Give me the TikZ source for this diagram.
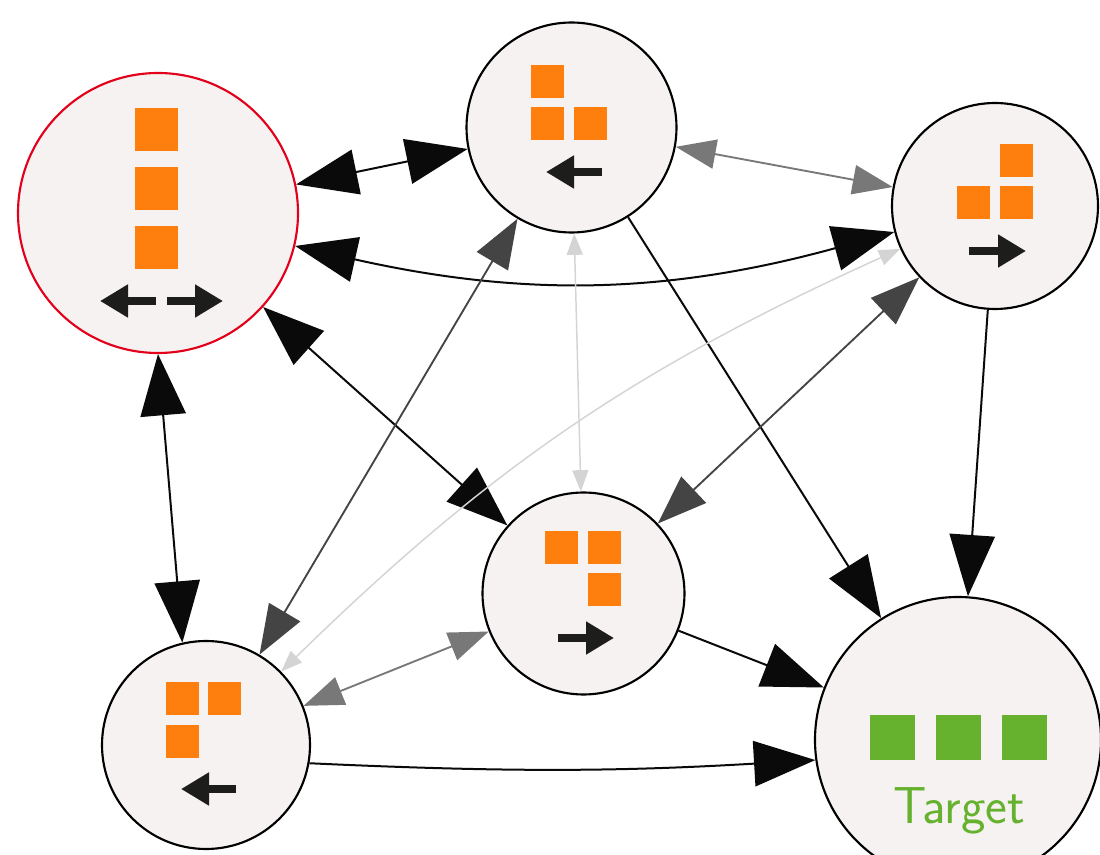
\documentclass[tikz,border=0pt]{standalone}
\usetikzlibrary{arrows.meta}

\definecolor{cellbg}{HTML}{F5F2F1}
\definecolor{sqorange}{HTML}{FF7F0E}
\definecolor{sqgreen}{HTML}{66B22E}
\definecolor{curred}{HTML}{E2001A}
\definecolor{icon}{HTML}{1D1D1B}
\definecolor{edgeblk}{HTML}{0A0A0A}
\definecolor{edgedark}{HTML}{444444}
\definecolor{edgegrey}{HTML}{787878}
\definecolor{edgepale}{HTML}{D4D4D4}

\tikzset{every picture/.style={line width=0.75pt}}
\tikzset{
  state/.style={circle, draw=black, line width=1.6pt, fill=cellbg, inner sep=0pt},
  sq/.style={fill=sqorange},
  gsq/.style={fill=sqgreen},
  dir/.style={draw=icon, line width=6pt, -{Triangle[length=21pt,width=23.5pt]}},
  heavy/.style={draw=edgeblk, line width=1.5pt, >={Triangle[length=46pt,width=34pt]}},
  dark/.style={draw=edgedark, line width=1.4pt, >={Triangle[length=37pt,width=27pt]}},
  grey/.style={draw=edgegrey, line width=1.4pt, >={Triangle[length=30pt,width=22pt]}},
  pale/.style={draw=edgepale, line width=1.1pt, >={Triangle[length=16pt,width=12pt]}}
}

\begin{document}
\begin{tikzpicture}[x=0.75pt,y=0.75pt,yscale=-1,xscale=1]
\useasboundingbox (0,0) rectangle (1100,855);

% states
\node (cur) [state, draw=curred, minimum size=210pt] at (158,213) {};
\node (up)  [state, minimum size=157.5pt] at (571.5,127.5) {};
\node (ne)  [state, minimum size=154.5pt] at (995,206) {};
\node (mid) [state, minimum size=151.5pt] at (583.5,593.5) {};
\node (sw)  [state, minimum size=156pt] at (206,745) {};
\node (tgt) [state, minimum size=214.5pt] at (958,740) {};

% transitions
\draw [heavy,<->]  (cur) -- (up) ;
\draw [heavy,<->]  (cur) to[bend left=14] (ne) ;
\draw [heavy,<->]  (cur) -- (mid) ;
\draw [heavy,<->]  (cur.south) -- (sw.103) ;
\draw [grey,<->]  (up) -- (ne) ;
\draw [dark,<->]  (up) -- (sw) ;
\draw [pale,<->]  (up) -- (mid) ;
\draw [heavy,->]  (up) -- (tgt) ;
\draw [dark,<->]  (ne) -- (mid) ;
\draw [pale,<->]  (ne) to[bend left=10] (sw) ;
\draw [heavy,->]  (ne) -- (tgt) ;
\draw [heavy,->]  (mid) -- (tgt) ;
\draw [grey,<->]  (mid) -- (sw) ;
\draw [heavy,->]  (sw.-10) to[bend left=3] (tgt.188) ;

% blocks
\fill [sq]  (135,108) rectangle (178,151) ;
\fill [sq]  (135,167) rectangle (178,210) ;
\fill [sq]  (135,226) rectangle (178,269) ;
\fill [sq]  (531,65) rectangle (564,98) ;
\fill [sq]  (531,107) rectangle (564,140) ;
\fill [sq]  (574,107) rectangle (607,140) ;
\fill [sq]  (1000,144) rectangle (1033,177) ;
\fill [sq]  (957,186) rectangle (990,219) ;
\fill [sq]  (1000,186) rectangle (1033,219) ;
\fill [sq]  (545,531) rectangle (578,564) ;
\fill [sq]  (588,531) rectangle (621,564) ;
\fill [sq]  (588,573) rectangle (621,606) ;
\fill [sq]  (166,682) rectangle (199,715) ;
\fill [sq]  (208,682) rectangle (241,715) ;
\fill [sq]  (166,725) rectangle (199,758) ;
\fill [gsq]  (870,715) rectangle (915,760) ;
\fill [gsq]  (936,715) rectangle (981,760) ;
\fill [gsq]  (1002,715) rectangle (1047,760) ;

% moves
\draw [dir]  (156,301) -- (100,301) ;
\draw [dir]  (167,301) -- (223,301) ;
\draw [dir]  (602,172) -- (546,172) ;
\draw [dir]  (969,251) -- (1026,251) ;
\draw [dir]  (558,638) -- (614,638) ;
\draw [dir]  (236,789) -- (181,789) ;

\node (lbl) [anchor=base, text=sqgreen, font=\sffamily\fontsize{39}{44}\selectfont, inner sep=0pt] at (959,823) {Target};

\end{tikzpicture}
\end{document}
